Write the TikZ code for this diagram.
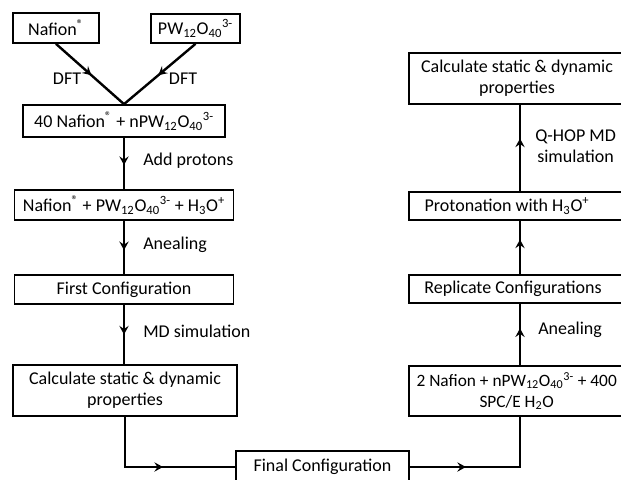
\documentclass[tikz,border=0pt]{standalone}
\usepackage{fontspec}
\setmainfont{Carlito}
\usetikzlibrary{arrows.meta,decorations.markings}
\tikzset{
  txtfont/.style={font=\fontsize{13.5}{15.8}\selectfont},
  box/.style={draw, line width=1.3pt, inner sep=0pt, align=center, txtfont},
  lbl/.style={txtfont, inner sep=0pt, align=left},
  conn/.style={line width=1.8pt},
  tipat/.style={postaction={decorate}, decoration={markings,
     mark=at position #1 with {\arrow[line width=1.5pt]{Stealth[length=6.5pt,width=7pt,inset=2.4pt]}}}},
}
\newcommand{\nafreg}{Nafion\textsuperscript{®}}
\newcommand{\pwion}{PW\textsubscript{12}O\textsubscript{40}\textsuperscript{3-}}
\begin{document}
\begin{tikzpicture}[x=0.75pt,y=-0.75pt]
\fill[white] (0,0) rectangle (621,479);
\clip (0,0) rectangle (621,479);
% left column
\node[box, minimum width=64.5pt, minimum height=22.5pt] (nafion) at (56,28) {\nafreg};
\node[box, minimum width=66.75pt, minimum height=21.75pt] (pw) at (195.5,28.5) {\pwion};
\node[box, minimum width=151.5pt, minimum height=24pt] (b40) at (124,121) {40 \nafreg{} + n\pwion};
\node[box, minimum width=164.25pt, minimum height=22.5pt] (b2) at (124,205) {\nafreg{} + \pwion{} + H\textsubscript{3}O\textsuperscript{+}};
\node[box, minimum width=164.25pt, minimum height=21.75pt] (first) at (124,289.5) {First Configuration};
\node[box, minimum width=168pt, minimum height=38.25pt] (calcL) at (125,390.5) {Calculate static \& dynamic\\properties};
\node[box, minimum width=129.75pt, minimum height=24pt] (final) at (322.5,467) {Final Configuration};
% right column
\node[box, minimum width=166.5pt, minimum height=37.5pt,
  label={[font=\fontsize{13}{15.8}\selectfont, align=center, xshift=-2.5pt]center:{2 Nafion + n\pwion{} + 400\\SPC/E H\textsubscript{2}O}}] (right2) at (520,391) {};
\node[box, minimum width=166.5pt, minimum height=21pt,
  label={[txtfont, xshift=-5.25pt]center:Replicate Configurations}] (repl) at (520,289) {};
\node[box, minimum width=166.5pt, minimum height=21pt,
  label={[txtfont, xshift=-9.75pt]center:{Protonation with H\textsubscript{3}O\textsuperscript{+}}}] (prot) at (520,206) {};
\node[box, minimum width=166.5pt, minimum height=38.25pt,
  label={[txtfont, align=center, xshift=-2.25pt]center:{Calculate static \& dynamic\\properties}}] (calcR) at (520,78.5) {};
% connectors
\draw[conn, tipat=0.52] (nafion.south) -- (b40.north);
\draw[conn, tipat=0.52] (pw.south) -- (b40.north);
\draw[conn, tipat=0.53] (b40.south) -- (b2.north);
\draw[conn, tipat=0.55] (b2.south) -- (first.north);
\draw[conn, tipat=0.5] (first.south) -- (first.south |- calcL.north);
\draw[conn, tipat=0.55] (calcL.south) |- (final.west);
\draw[conn, tipat=0.35] (final.east) -| (right2.south);
\draw[conn, tipat=0.6] (right2.north) -- (repl.south);
\draw[conn, tipat=0.65] (repl.north) -- (prot.south);
\draw[conn, tipat=0.61] (prot.north) -- (calcR.south);
% labels
\node[lbl] (dft1) at (67,79) {DFT};
\node[lbl] (dft2) at (183,79) {DFT};
\node[lbl, anchor=west] (addp) at (143,161) {Add protons};
\node[lbl, anchor=west] (anl1) at (143,245) {Anealing};
\node[lbl, anchor=west] (mds) at (143,331) {MD simulation};
\node[lbl, anchor=west] (anl2) at (538,330) {Anealing};
\node[lbl, anchor=west, align=center] (qhop) at (535,146) {Q-HOP MD\\simulation};
\end{tikzpicture}
\end{document}
